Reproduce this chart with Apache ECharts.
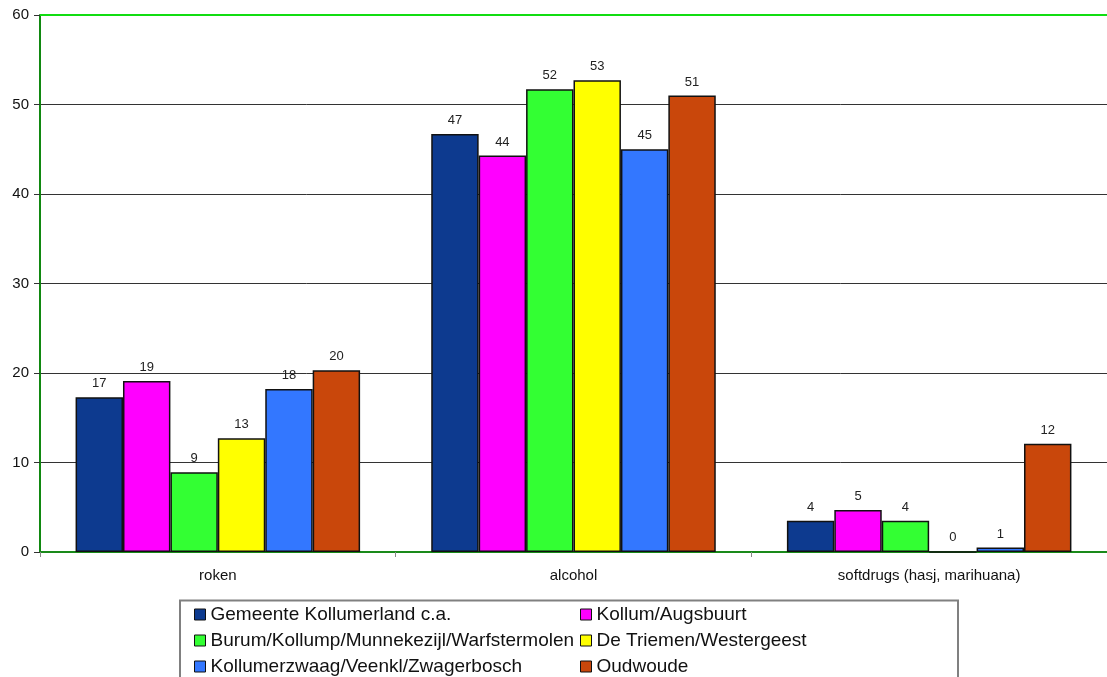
<!DOCTYPE html>
<html>
<head>
<meta charset="utf-8">
<script src="https://cdn.jsdelivr.net/npm/echarts@6/dist/echarts.min.js"></script>
<style>
html,body{margin:0;padding:0;background:#fff;}
#chart{width:1107px;height:677px;}
</style>
</head>
<body>
<div id="chart"></div>
<script>
const categories = ['roken', 'alcohol', 'softdrugs (hasj, marihuana)'];
const seriesNames = [
  'Gemeente Kollumerland c.a.',
  'Kollum/Augsbuurt',
  'Burum/Kollump/Munnekezijl/Warfstermolen',
  'De Triemen/Westergeest',
  'Kollumerzwaag/Veenkl/Zwagerbosch',
  'Oudwoude'
];
const gemeente = [17.3, 46.7, 3.5];
const kollum = [19.1, 44.3, 4.7];
const burum = [8.9, 51.7, 3.5];
const triemen = [12.7, 52.7, 0];
const kollumerzwaag = [18.2, 45.0, 0.5];
const oudwoude = [20.3, 51.0, 12.1];
const seriesValues = [gemeente, kollum, burum, triemen, kollumerzwaag, oudwoude];
const colors = ['#0d3a8f', '#ff00ff', '#33ff33', '#ffff00', '#3377ff', '#c9470b'];
const yTicks = [0, 10, 20, 30, 40, 50, 60];

const FONT = 'Liberation Sans, Arial, sans-serif';
const chart = echarts.init(document.getElementById('chart'));

const series = seriesNames.map((name, i) => ({
  name: name,
  type: 'bar',
  data: seriesValues[i],
  barGap: '0%',
  barCategoryGap: '20%',
  itemStyle: { color: colors[i], borderColor: '#111', borderWidth: 1.5 },
  label: {
    show: true,
    position: 'top',
    distance: 7,
    fontSize: 13,
    fontFamily: FONT,
    color: '#222',
    formatter: p => String(Math.round(p.value))
  }
}));

// top frame line of the plot area (bright green)
series[0].markLine = {
  silent: true,
  symbol: 'none',
  label: { show: false },
  lineStyle: { color: '#11dd11', type: 'solid', width: 2 },
  data: [{ yAxis: yTicks[yTicks.length - 1] }]
};

const legendCommon = {
  orient: 'vertical', top: 605, padding: 0,
  itemWidth: 11, itemHeight: 11, itemGap: 7, icon: 'rect',
  itemStyle: { borderColor: '#111', borderWidth: 1 },
  textStyle: { fontSize: 19, lineHeight: 19, color: '#111', fontFamily: FONT }
};

chart.setOption({
  animation: false,
  textStyle: { fontFamily: FONT },
  grid: { left: 40, right: 0, top: 15, bottom: 125 },
  legend: [
    Object.assign({ data: [seriesNames[0], seriesNames[2], seriesNames[4]], left: 194 }, legendCommon),
    Object.assign({ data: [seriesNames[1], seriesNames[3], seriesNames[5]], left: 580 }, legendCommon)
  ],
  graphic: [{
    type: 'rect',
    shape: { x: 180, y: 600.5, width: 778, height: 100 },
    style: { fill: 'none', stroke: '#808080', lineWidth: 2 },
    silent: true
  }],
  xAxis: {
    type: 'category',
    data: categories,
    axisLine: { lineStyle: { color: '#1a8a1a', width: 2 } },
    axisTick: { show: true, length: 5, lineStyle: { color: '#888' } },
    axisLabel: { fontSize: 15, color: '#111', margin: 16, fontFamily: FONT }
  },
  yAxis: {
    type: 'value',
    min: yTicks[0],
    max: yTicks[yTicks.length - 1],
    interval: 10,
    axisLine: { show: true, lineStyle: { color: '#118811', width: 2 } },
    axisTick: { show: true, length: 6, lineStyle: { color: '#333' } },
    axisLabel: { fontSize: 15, color: '#111', margin: 11, fontFamily: FONT },
    splitLine: { show: true, lineStyle: { color: '#333', width: 1 } }
  },
  series: series
});
</script>
</body>
</html>
